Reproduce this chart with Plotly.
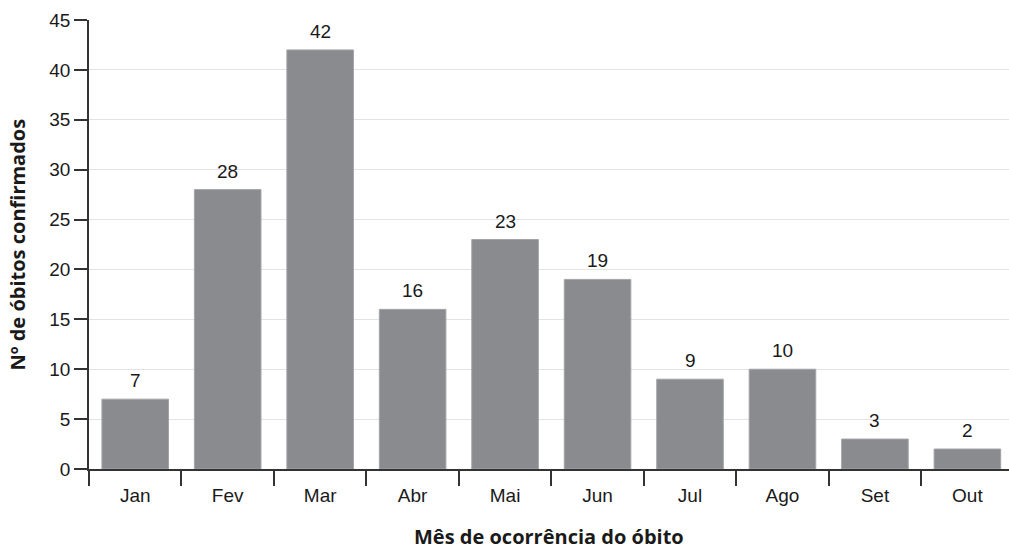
import plotly.graph_objects as go

months = ["Jan", "Fev", "Mar", "Abr", "Mai", "Jun", "Jul", "Ago", "Set", "Out"]
deaths = [7, 28, 42, 16, 23, 19, 9, 10, 3, 2]
y_ticks = [0, 5, 10, 15, 20, 25, 30, 35, 40, 45]
x_title = "Mês de ocorrência do óbito"
y_title = "Nº de óbitos confirmados"

BAR = "#8a8b8f"
TXT = "#1a1a1a"
SANS = "Liberation Sans, Arial"
TITLE_FONT = dict(family="Open Sans", size=20, color=TXT, weight="bold")

fig = go.Figure()
fig.add_trace(go.Bar(
    x=months, y=deaths,
    marker=dict(color=BAR, line=dict(color="#a3a4a7", width=1)),
    hoverinfo="x+y",
))

for m, v in zip(months, deaths):
    fig.add_annotation(x=m, y=v, text=str(v), showarrow=False,
                       yanchor="bottom", yshift=6,
                       font=dict(family=SANS, size=19, color=TXT))

fig.add_annotation(xref="paper", yref="paper", x=0.5, y=0, yshift=-67,
                   xanchor="center", yanchor="middle", showarrow=False,
                   text=x_title, font=TITLE_FONT)
fig.add_annotation(xref="paper", yref="paper", x=0, y=0.5, xshift=-72,
                   xanchor="center", yanchor="middle", showarrow=False,
                   textangle=-90, text=y_title, font=TITLE_FONT)

fig.update_layout(
    width=1009, height=550,
    margin=dict(l=89, r=0, t=20, b=81),
    paper_bgcolor="white", plot_bgcolor="white",
    bargap=0.28,
    showlegend=False,
    font=dict(family=SANS, size=19, color=TXT),
)
fig.update_xaxes(
    type="category", categoryorder="array", categoryarray=months,
    range=[-0.5, 9.45],
    showline=True, linecolor="#333333", linewidth=1.5,
    ticks="outside", ticklen=15, tickcolor="#333333", tickwidth=1.5,
    tickson="boundaries", ticklabelstandoff=8,
    showgrid=False, zeroline=False, automargin=False,
    tickfont=dict(family=SANS, size=19, color=TXT),
)
fig.update_yaxes(
    range=[0, 45], tickvals=y_ticks,
    showline=True, linecolor="#333333", linewidth=1.5,
    ticks="outside", ticklen=13, tickcolor="#333333", tickwidth=1.5,
    showgrid=True, gridcolor="#e3e3e3", gridwidth=1,
    zeroline=False, automargin=False,
    tickfont=dict(family=SANS, size=19, color=TXT),
)

fig.write_html("out.html", config={"displayModeBar": False},
               post_script="document.body.style.margin='0';")
